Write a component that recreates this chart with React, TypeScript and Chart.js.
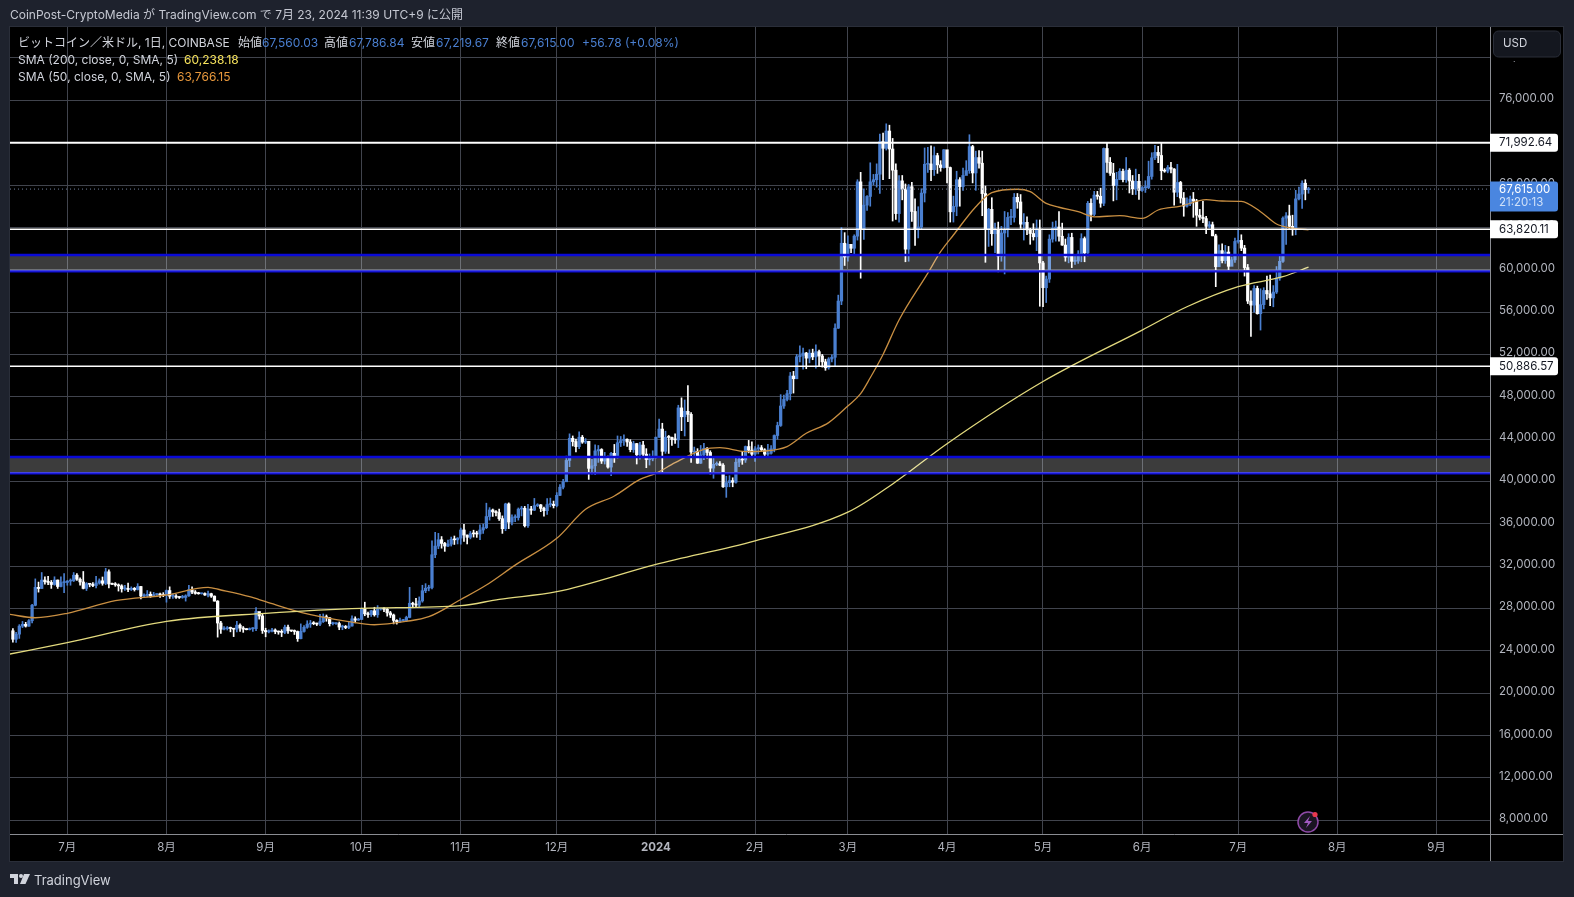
import React, { useEffect, useRef } from "react";
import { Chart, registerables } from "chart.js";

Chart.register(...registerables);

// Daily candles from 2023-06-14 to 2024-07-23; x is days since 2023-07-01.
const firstDay = -17;
const firstOpen = 25900;
const closes = [
  25100,25580,26340,26510,26340,26850,28310,30000,29890,30690,30530,30470,30270,30690,30080,30450,30470,
  30590,30620,31150,30770,30510,29900,30350,30290,30170,30410,30620,30380,31470,30320,30290,30240,30140,29860,29910,29800,29910,29790,30080,29180,29230,29350,29210,29320,29350,29280,29230,
  29700,29170,29180,29070,29050,29050,29200,29770,29560,29430,29400,29420,29280,29400,29170,28700,26630,26050,26100,26190,26120,26050,26430,26160,26050,26010,26090,26100,27720,27300,25930,
  25800,25870,25970,25820,25780,25750,26240,25900,25890,25830,25160,25840,26230,26530,26600,26570,26530,26760,27210,27130,26570,26580,26580,26250,26300,26210,26350,27030,26910,26970,
  27980,27500,27430,27790,27410,27950,27970,27940,27590,27390,26880,26750,26860,26860,27160,28500,28400,28330,28720,29680,29920,29990,33080,33900,34500,34150,33900,34080,34530,34490,34650,
  35420,34940,34730,35080,35050,35040,35420,35640,36690,37310,37130,37060,36490,35540,37880,36160,36590,36590,37390,37470,35820,37400,37290,37720,37790,37460,37240,37820,37850,37720,
  38690,39460,39970,41990,44080,43770,43290,44180,43720,43790,41240,41480,42890,43020,41930,42240,41360,42660,42270,43660,43860,43990,43730,43010,43580,42520,43440,42580,42070,42140,42280,
  44180,44950,42850,44180,44160,43970,43930,46950,46110,46630,46340,42780,42840,41730,42510,43140,42740,41260,41620,41670,41540,39500,39890,40080,39930,41820,42120,42030,43300,42950,42580,
  43080,43190,42990,42580,42660,43090,44340,45290,47130,47750,48290,49960,49700,51780,51900,52130,51650,52120,51770,52260,51850,51300,50740,51570,51730,54480,57040,62500,61200,
  62400,62030,63170,68300,63800,66100,66920,68300,68500,69020,72100,71470,73100,71400,69400,65300,68390,67610,61940,67840,65500,63800,64040,67240,69960,69990,69450,70780,69900,69650,71330,
  69650,65470,65980,68500,67840,68900,69360,71630,69140,70590,70060,67190,63800,65700,63400,63800,61280,63470,63810,64940,64940,66840,66400,64300,64480,63760,63420,63110,63840,60640,
  58300,59120,62890,63890,64030,63160,62330,61190,63050,60790,60820,61480,62940,61580,66270,65230,67050,66940,66280,71450,70140,69120,67950,68530,69290,68510,69400,68380,67640,68350,67490,
  67750,67760,68810,70570,71080,70790,69350,69310,69650,69510,67320,68240,66770,66010,66220,66670,66490,65150,64960,64830,64100,64250,63200,60280,61800,60860,61670,60320,60930,62670,
  62770,62040,60200,57040,56660,58230,55850,56700,58040,57720,57340,57890,59210,60790,64870,65090,64100,63980,66690,67150,68170,67560,67615,
];
const highs = [
  26100,25750,26480,26780,26700,26950,28400,30800,30500,31400,31000,31050,30650,31000,30700,31000,31300,
  30650,30800,31400,31300,30900,31500,30450,30380,30450,31050,30800,30980,31800,31650,30400,30450,30330,30250,30200,30400,30050,29990,30350,30100,29380,29700,29570,29530,29400,29450,29500,
  29750,30050,29400,29320,29100,29250,29300,30200,30050,29700,29530,29450,29480,29650,29450,29200,28750,26800,26300,26300,26250,26130,26800,26560,26300,26100,26170,26200,28100,27580,27500,
  26140,25980,26120,26080,25880,26000,26430,26430,25930,25980,25880,26550,26400,26850,26880,26770,26630,27450,27490,27390,27150,26720,26620,26730,26430,26400,26800,27300,27220,27080,
  28050,28600,27660,27830,28120,28280,28000,28100,28000,27730,27480,26950,27100,26980,27280,30000,28600,28970,29100,30200,30350,30200,34400,35200,35100,34800,34250,34470,34750,34850,34700,
  35600,35950,34950,35280,35400,35300,35900,35980,37950,37530,37400,37240,37400,36750,37950,37980,36850,36850,37500,37650,37650,37850,37650,38400,37900,37830,37580,38380,38430,38150,
  38950,39700,40200,42400,44500,44300,44000,44700,44350,44050,43800,42100,43450,43400,43100,42750,42400,42750,43500,44300,44250,44400,44020,43950,43800,43600,43700,43800,43100,42600,42900,
  44200,45900,45500,44750,44350,44200,44500,47200,47900,47700,49050,46500,43250,43100,43400,43600,43200,42900,42200,41850,41880,41700,40500,40550,40350,42200,42200,42850,43350,43880,43750,
  43300,43450,43400,43100,43500,43400,44400,45600,48200,48150,48600,50300,50400,52000,52800,52600,52200,52450,52500,52900,52400,52000,51550,51700,51950,54900,57600,64000,63500,
  63200,62400,63300,68500,69200,67650,67000,70100,69000,70000,72800,72900,73780,73650,72400,70000,68900,68900,68100,68050,68250,66700,65950,67650,71500,71550,71700,71600,71000,70300,71350,
  71250,69700,66950,69300,68700,69600,70300,72750,71750,71200,71250,71200,67900,65800,66800,64400,64500,64100,65500,65400,65700,67200,67200,67100,65300,65000,63900,64350,64700,64700,
  60800,59400,63300,64500,64600,65500,64400,62900,63400,63450,61450,61800,63400,63100,66450,66700,67400,67400,67700,71500,71950,70600,70050,69200,69550,69500,70600,69550,68900,69500,69000,
  67850,68400,70250,71050,71750,71650,71950,69550,69850,70150,69550,69950,68350,67300,66800,66950,67300,66650,65700,66450,65050,64550,64500,63350,62350,62450,62300,62200,61200,63000,
  63850,63300,62300,60500,58000,58500,58450,58200,58300,59400,59500,58500,60300,61400,65000,65400,66100,65150,67500,67800,68400,68500,67787,
];
const lows = [
  24820,24800,25180,26200,26250,26300,26650,28250,29550,29900,30300,30250,29900,30200,29900,30050,29500,
  30200,30200,30550,30650,30200,29850,29700,30050,30070,29950,30300,30200,30250,29950,30250,30100,29650,29550,29700,29600,29700,29650,29750,28900,29050,29100,29050,29130,29250,29050,29120,
  28600,28950,28950,28950,28950,28970,28700,29150,29400,29350,29350,29360,29250,29100,29050,28700,25300,25650,25980,25970,25800,25350,25800,25850,25750,25980,25970,25850,25900,27000,25650,
  25330,25700,25800,25620,25570,25350,25620,25650,25820,25550,24900,25130,25770,26130,26220,26470,26390,26380,26680,26800,26350,26450,26500,26000,26000,26100,26100,26330,26650,26880,
  26950,27320,27150,27250,27280,27170,27850,27700,27280,27150,26550,26530,26700,26800,26810,27120,28100,28150,28180,28600,29500,29670,29850,32800,33650,33700,33400,33850,33900,34050,34100,
  34080,34350,34100,34580,34750,34720,34500,35100,35550,36350,36700,36750,36330,35100,35350,35550,35900,36200,36350,36750,35700,35650,36900,37250,37620,37150,36720,36900,37600,37500,
  37600,38650,39300,39980,41400,43350,42800,43100,43600,43580,40200,40700,40650,41800,41700,41650,41250,40550,41800,42200,43300,43400,43300,42800,42750,41650,42100,42300,41300,41550,41950,
  42200,44150,40750,42650,42650,43400,43600,43200,44800,44300,45650,41800,42450,41700,41700,42050,42200,40700,40300,41500,41500,39450,38500,39500,39500,39830,41400,41620,41800,42700,42280,
  41900,42600,42900,42250,42250,42580,42800,44000,45200,46900,47600,47700,48350,49700,51300,50600,50650,51200,51500,50700,50900,50800,50500,50600,51300,50900,54450,56700,60400,
  60800,61600,61400,62800,59200,62850,65600,66000,68000,67800,67200,68500,71300,68600,64600,64750,64500,66600,60750,60800,64550,62300,63000,63800,66400,69200,68400,68900,69100,69300,69600,
  68200,64500,64500,65100,66000,67500,69000,69100,68200,67500,69600,65100,60700,62200,62300,61600,59800,60800,59600,63100,64250,64500,65800,63900,62800,63300,62400,62800,61800,56550,
  56500,56900,58800,62600,62700,62700,62300,60800,60650,60200,60500,60600,60750,60750,61300,64600,65100,66650,65900,66050,69200,68900,66500,66600,68500,68300,68250,67250,67100,67100,66650,
  67400,67300,67650,68550,70400,70100,68500,69200,69150,69150,66100,66900,66300,65050,65900,66050,64950,64100,64700,64450,63400,63950,63200,58400,60300,60650,60600,59900,60500,60700,
  62500,61800,59400,56800,53700,56000,55800,54300,56300,57200,56600,56500,57750,59000,60700,62400,63900,63250,63300,66600,65800,66600,67220,
];

const sma200Days = [-18,0,31,62,92,123,135,153,184,215,244,258,275,305,336,350,366,380,388];
const sma200Values = [23700,24780,26790,27550,28020,28270,28870,29590,32180,34400,37100,39770,43570,49440,54300,56500,58400,59340,60238];
const sma50Days = [-18,-10,0,15,31,44,48,57,62,73,88,96,106,113,123,131,140,153,162,171,179,184,190,199,204,212,218,225,231,238,244,248,251,255,260,269,273,277,284,289,297,301,306,310,316,321,329,336,341,348,356,361,367,373,378,382,388];
const sma50Values = [27450,27130,27550,28740,29280,30000,29750,29120,28650,27640,26760,26470,26790,27230,28850,30220,32100,34630,37370,38630,40200,40770,41780,43040,43190,42820,42880,43300,44550,45560,47130,48300,49800,52000,55250,59680,61700,63280,65950,67280,67600,67370,66270,65900,65480,65000,65100,64850,65640,66000,66620,66490,66460,65480,64320,63970,63766];

const levelLines = [71992.64, 63820.11, 50886.57];
const levelWidths = [2, 1.4, 1.5];
const zoneUpper = [61390, 59850];
const zoneLower = [42310, 40770];
const lastPrice = 67615;
const yTicks = [8000,12000,16000,20000,24000,28000,32000,36000,40000,44000,48000,52000,56000,60000,64000,68000,72000,76000,80000];
const monthDays = [0,31,62,92,123,153,184,215,244,275,305,336,366,397,428];
const monthLabels = ["7月","8月","9月","10月","11月","12月","2024","2月","3月","4月","5月","6月","7月","8月","9月"];

const FONT = 'Inter, "Noto Sans CJK JP", sans-serif';
const UP = "#4a7fd0";
const DOWN = "#ffffff";
const GRID = "#41444d";
const TICK = "#b2b5be";
const X_MIN = -17.91;
const X_MAX = 444.73;

const opens = [firstOpen, ...closes.slice(0, -1)];
const xs = closes.map((_, i) => firstDay + i);
const candleColors = closes.map((c, i) => (c >= opens[i] ? UP : DOWN));
const pts = (days: number[], vals: number[]) => days.map((x, i) => ({ x, y: vals[i] }));
const flat = (y: number) => [{ x: X_MIN, y }, { x: X_MAX, y }];

const hline = (label: string, y: number, color: string, width: number, extra: any = {}) => ({
  type: "line" as const,
  label,
  data: flat(y),
  borderColor: color,
  borderWidth: width,
  pointRadius: 0,
  order: 0,
  ...extra,
});

const framePlugin = {
  id: "frame",
  beforeDraw(chart: any) {
    const c = chart.ctx;
    c.save();
    c.fillStyle = "#1e222d";
    c.fillRect(0, 0, chart.width, chart.height);
    c.fillStyle = "#2a2e39";
    c.fillRect(9, 26, 1555, 836);
    c.fillStyle = "#000000";
    c.fillRect(10, 27, 1553, 834);
    c.restore();
  },
  afterDraw(chart: any) {
    const c = chart.ctx;
    const y = chart.scales.y;
    c.save();
    c.strokeStyle = "#8a8c92";
    c.lineWidth = 1;
    c.beginPath();
    c.moveTo(10, 834.5);
    c.lineTo(1563, 834.5);
    c.moveTo(1490.5, 27);
    c.lineTo(1490.5, 861);
    c.stroke();

    c.textBaseline = "middle";
    c.font = `11.5px ${FONT}`;
    levelLines.forEach((v) => {
      const py = y.getPixelForValue(v);
      c.fillStyle = "#ffffff";
      c.beginPath();
      c.roundRect(1490, py - 9, 68, 18, [0, 3, 3, 0]);
      c.fill();
      c.fillStyle = "#131722";
      c.fillText(v.toLocaleString("en-US", { minimumFractionDigits: 2 }), 1499, py);
    });
    const lp = y.getPixelForValue(lastPrice);
    c.fillStyle = "#4a86e0";
    c.beginPath();
    c.roundRect(1490, lp - 7.5, 68, 30, [0, 3, 3, 0]);
    c.fill();
    c.fillStyle = "#ffffff";
    c.fillText("67,615.00", 1499, lp + 0.5);
    c.fillStyle = "#cfe0f8";
    c.fillText("21:20:13", 1499, lp + 13.5);

    c.fillStyle = "#000000";
    c.fillRect(1491, 27, 72, 34);
    c.fillStyle = "#14171f";
    c.strokeStyle = "#2a2e39";
    c.beginPath();
    c.roundRect(1493.5, 31, 67, 26, 5);
    c.fill();
    c.stroke();
    c.fillStyle = "#d1d4dc";
    c.fillText("USD", 1503, 44);
    c.restore();
  },
};

const abs = (left: number, top: number, color: string, size = 12, extra: any = {}): React.CSSProperties => ({
  position: "absolute",
  left,
  top,
  color,
  fontFamily: FONT,
  fontSize: size,
  lineHeight: "16px",
  whiteSpace: "nowrap",
  ...extra,
});

const LT = "#d1d4dc";
const legendRows: [number, number, string, string][] = [
  [18, 35, "ビットコイン／米ドル, 1日, COINBASE", LT],
  [238, 35, "始値", LT],
  [262, 35, "67,560.03", UP],
  [324, 35, "高値", LT],
  [349, 35, "67,786.84", UP],
  [411, 35, "安値", LT],
  [436, 35, "67,219.67", UP],
  [496, 35, "終値", LT],
  [521, 35, "67,615.00", UP],
  [582, 35, "+56.78 (+0.08%)", UP],
  [18, 52, "SMA (200, close, 0, SMA, 5)", LT],
  [184, 52, "60,238.18", "#f7e35c"],
  [18, 69, "SMA (50, close, 0, SMA, 5)", LT],
  [177, 69, "63,766.15", "#e8983c"],
];

export default function App() {
  const ref = useRef<HTMLCanvasElement>(null);
  useEffect(() => {
    const chart = new Chart(ref.current as HTMLCanvasElement, {
      type: "bar",
      plugins: [framePlugin],
      data: {
        datasets: [
          hline("Zone A top", zoneUpper[0], "#0a0ad6", 2.5, {
            fill: "+1",
            backgroundColor: "rgba(255,255,255,0.235)",
          }),
          hline("Zone A bottom", zoneUpper[1], "#0a0ad6", 2.5),
          hline("Zone B top", zoneLower[0], "#0a0ad6", 2.5, {
            fill: "+1",
            backgroundColor: "rgba(255,255,255,0.235)",
          }),
          hline("Zone B bottom", zoneLower[1], "#0a0ad6", 2.5),
          ...levelLines.map((v, i) => hline(`Level ${v}`, v, "#ffffff", levelWidths[i])),
          hline("Last price", lastPrice, "#6f7f9c", 1, { borderDash: [1, 3] }),
          {
            type: "line" as const,
            label: "SMA 200",
            data: pts(sma200Days, sma200Values),
            borderColor: "#e3da7e",
            borderWidth: 1.3,
            pointRadius: 0,
            cubicInterpolationMode: "monotone",
            order: 1,
          },
          {
            type: "line" as const,
            label: "SMA 50",
            data: pts(sma50Days, sma50Values),
            borderColor: "#c98f42",
            borderWidth: 1.3,
            pointRadius: 0,
            cubicInterpolationMode: "monotone",
            order: 1,
          },
          {
            label: "Body",
            data: xs.map((x, i) => ({ x, y: [opens[i], closes[i]] })),
            backgroundColor: candleColors,
            barThickness: 2.6,
            minBarLength: 1,
            grouped: false,
            order: 2,
          },
          {
            label: "Wick",
            data: xs.map((x, i) => ({ x, y: [lows[i], highs[i]] })),
            backgroundColor: candleColors,
            barThickness: 1,
            grouped: false,
            order: 3,
          },
        ] as any,
      },
      options: {
        responsive: false,
        animation: false,
        events: [],
        layout: { padding: { left: 10, top: 27, right: 11, bottom: 36 } },
        plugins: { legend: { display: false }, tooltip: { enabled: false } },
        scales: {
          x: {
            type: "linear",
            min: X_MIN,
            max: X_MAX,
            offset: false,
            afterBuildTicks: (s: any) => {
              s.ticks = monthDays.map((value) => ({ value }));
            },
            afterFit: (s: any) => {
              s.height = 27;
            },
            grid: { offset: false, color: GRID, lineWidth: 1, drawTicks: false },
            border: { display: false },
            ticks: {
              autoSkip: false,
              maxRotation: 0,
              padding: 7,
              color: TICK,
              font: (ctx: any) => ({
                family: FONT,
                size: 11.5,
                weight: monthLabels[monthDays.indexOf(ctx.tick?.value)] === "2024" ? "bold" : "normal",
              }),
              callback: (v: any) => monthLabels[monthDays.indexOf(Number(v))],
            },
          },
          y: {
            type: "linear",
            position: "right",
            min: 6706,
            max: 82924,
            beginAtZero: false,
            afterBuildTicks: (s: any) => {
              s.ticks = yTicks.map((value) => ({ value }));
            },
            afterFit: (s: any) => {
              s.width = 73;
            },
            grid: { color: GRID, lineWidth: 1, drawTicks: false },
            border: { display: false },
            ticks: {
              autoSkip: false,
              padding: 9,
              labelOffset: -1.5,
              color: TICK,
              font: { family: FONT, size: 11.5 },
              callback: (v: any) => Number(v).toLocaleString("en-US", { minimumFractionDigits: 2 }),
            },
          },
        },
      } as any,
    });
    return () => chart.destroy();
  }, []);

  return (
    <div style={{ position: "absolute", left: 0, top: 0, width: 1574, height: 897, overflow: "hidden" }}>
      <canvas ref={ref} width={1574} height={897} style={{ display: "block" }} />
      <div style={abs(10, 7, "#c5c8d2", 12)}>
        CoinPost-CryptoMedia が TradingView.com で 7月 23, 2024 11:39 UTC+9 に公開
      </div>
      {legendRows.map(([l, t, s, c], i) => (
        <div key={i} style={abs(l, t, c)}>
          {s}
        </div>
      ))}
      <svg style={{ position: "absolute", left: 10, top: 874 }} width="20" height="11" viewBox="0 0 20 11">
        <path d="M0 0h8v10H4V4H0z" fill="#d1d4dc" />
        <circle cx="11" cy="2" r="2" fill="#d1d4dc" />
        <path d="M14 0h6l-4.5 10H10z" fill="#d1d4dc" />
      </svg>
      <div style={abs(34, 872, "#d1d4dc", 13)}>TradingView</div>
      <svg style={{ position: "absolute", left: 1296, top: 810 }} width="26" height="24" viewBox="0 0 26 24">
        <circle cx="12" cy="12" r="10" fill="#1a1522" stroke="#8f4aa8" strokeWidth="1.5" />
        <path d="M14 6l-6 7h4l-2 5 6-7h-4z" fill="#a05ac0" />
        <circle cx="19" cy="4.5" r="2.6" fill="#e8384f" />
      </svg>
    </div>
  );
}
